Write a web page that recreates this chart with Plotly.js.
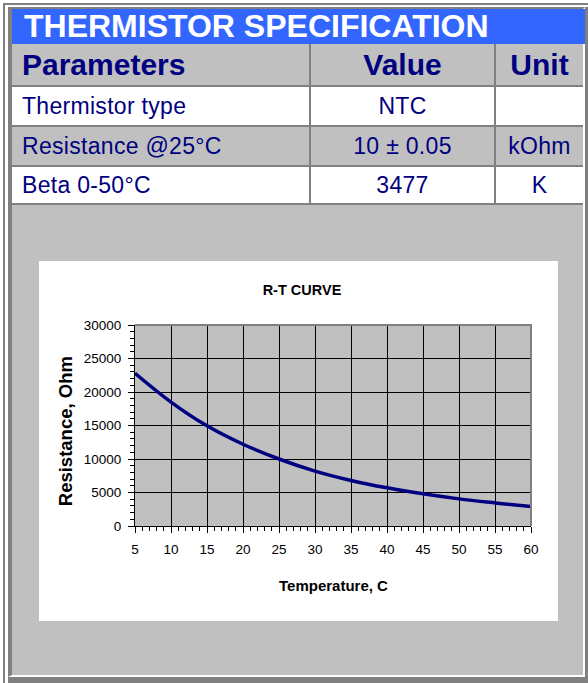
<!DOCTYPE html>
<html>
<head>
<meta charset="utf-8">
<script src="https://cdn.plot.ly/plotly-3.0.1.min.js"></script>
<style>
  html, body { margin: 0; padding: 0; background: #ffffff; width: 588px; height: 683px; overflow: hidden; }
  body { position: relative; font-family: "Liberation Sans", Arial, sans-serif; }
  .abs { position: absolute; box-sizing: border-box; }
  .cell { position: absolute; display: flex; align-items: center; color: #000080; box-sizing: border-box; white-space: nowrap; }
  .left { justify-content: flex-start; padding-left: 10px; }
  .center { justify-content: center; }
  .hdr { font-weight: bold; font-size: 30px; }
  .txt { font-size: 23px; letter-spacing: 0.3px; }
</style>
</head>
<body>
<div id="frame"></div>
<div id="chart" class="abs" style="left:39px; top:261px; width:519px; height:360px;"></div>
<script>
// ---- table data ----
var tableTitle = 'THERMISTOR SPECIFICATION';
var headers = ['Parameters', 'Value', 'Unit'];
var paramNames = ['Thermistor type', 'Resistance @25°C', 'Beta 0-50°C'];
var paramValues = ['NTC', '10 ± 0.05', '3477'];
var paramUnits = ['', 'kOhm', 'K'];

// ---- chart data ----
var chartTitle = 'R-T CURVE';
var xTitle = 'Temperature, C';
var yTitle = 'Resistance, Ohm';
var temperatureC = [5, 10, 15, 20, 25, 30, 35, 40, 45, 50, 55, 60];
var resistanceOhm = [22800, 18500, 14950, 12200, 10000, 8200, 6800, 5700, 4800, 4050, 3450, 2900];

// ---- build page frame and table ----
var frame = document.getElementById('frame');
function box(style, html, cls) {
  var d = document.createElement('div');
  d.className = cls || 'abs';
  d.setAttribute('style', style);
  if (html !== undefined) d.textContent = html;
  frame.appendChild(d);
  return d;
}
// outer lines
box('left:3px; top:3px; width:600px; height:700px; border-left:2px solid #808080; border-top:2px solid #808080;');
// outer dark right / bottom
box('left:8px; top:677px; width:590px; height:10px; background:#808080;');
box('left:585px; top:7px; width:10px; height:690px; background:#808080;');
// panel
box('left:8px; top:7px; width:577px; height:670px; background:#C0C0C0; border-left:4px solid #808080; border-top:2px solid #808080; border-right:2px solid #ffffff; border-bottom:2px solid #ffffff;');
// blue title bar
var t = box('left:12px; top:9px; width:573px; height:35px; background:#3366FF; color:#ffffff; font-weight:bold; font-size:32px; padding-left:12px; display:flex; align-items:center; white-space:nowrap;', tableTitle);

var colX = [12, 311, 496];
var colW = [297, 183, 87];
var rowTops = [87, 127, 167];
var rowH = [38, 38, 36];
var rowBg = ['#ffffff', '#C0C0C0', '#ffffff'];

// header row
box('left:12px; top:44px; width:571px; height:41px; background:#C0C0C0;');
for (var c = 0; c < 3; c++) {
  box('left:' + colX[c] + 'px; top:44px; width:' + colW[c] + 'px; height:41px;', headers[c],
      'cell hdr ' + (c === 0 ? 'left' : 'center'));
}
// lines
var lineYs = [85, 125, 165, 203];
lineYs.forEach(function (y) { box('left:12px; top:' + y + 'px; width:571px; height:2px; background:#808080;'); });
// body rows
var cols = [paramNames, paramValues, paramUnits];
for (var r = 0; r < 3; r++) {
  box('left:12px; top:' + rowTops[r] + 'px; width:571px; height:' + rowH[r] + 'px; background:' + rowBg[r] + ';');
  for (var c2 = 0; c2 < 3; c2++) {
    box('left:' + colX[c2] + 'px; top:' + rowTops[r] + 'px; width:' + colW[c2] + 'px; height:' + rowH[r] + 'px;',
        cols[c2][r], 'cell txt ' + (c2 === 0 ? 'left' : 'center'));
  }
}
// vertical column lines
box('left:309px; top:44px; width:2px; height:161px; background:#808080;');
box('left:494px; top:44px; width:2px; height:161px; background:#808080;');

// ---- chart ----
var fontFam = '"Liberation Sans", Arial, sans-serif';
var trace = {
  x: temperatureC,
  y: resistanceOhm,
  type: 'scatter',
  mode: 'lines',
  line: { color: '#000080', width: 3.5, shape: 'spline', smoothing: 1 },
  hoverinfo: 'x+y'
};
var axisCommon = {
  showline: true, linecolor: '#000000', linewidth: 1,
  showgrid: true, gridcolor: '#000000', gridwidth: 1,
  zeroline: false,
  ticks: 'outside', ticklen: 6, tickwidth: 1, tickcolor: '#000000',
  tickfont: { family: fontFam, size: 13.5, color: '#000000' },
  fixedrange: true
};
var layout = {
  width: 519, height: 360,
  margin: { l: 96, r: 27, t: 64, b: 95, pad: 0 },
  paper_bgcolor: '#ffffff',
  plot_bgcolor: '#C0C0C0',
  showlegend: false,
  font: { family: fontFam, color: '#000000' },
  title: {
    text: chartTitle,
    font: { family: fontFam, size: 14.5, weight: 'bold', color: '#000000' },
    xref: 'container', yref: 'container',
    x: 0.5067, xanchor: 'center',
    y: 0.919, yanchor: 'middle'
  },
  xaxis: Object.assign({}, axisCommon, {
    range: [5, 60], tick0: 5, dtick: 5,
    ticklabelstandoff: 5,
    minor: { dtick: 1, tick0: 5, ticks: 'outside', ticklen: 4, tickcolor: '#000000', tickwidth: 1, showgrid: false }
  }),
  yaxis: Object.assign({}, axisCommon, {
    range: [0, 30000], tick0: 0, dtick: 5000, tickformat: 'd',
    ticklabelstandoff: 4,
    minor: { dtick: 1000, tick0: 0, ticks: 'outside', ticklen: 4, tickcolor: '#000000', tickwidth: 1, showgrid: false }
  }),
  shapes: [{
    type: 'path', xref: 'paper', yref: 'paper',
    path: 'M 0 1 L 1 1 L 1 0',
    line: { color: '#808080', width: 2 },
    layer: 'above'
  }],
  annotations: [
    {
      text: xTitle, xref: 'paper', yref: 'paper', x: 0.5, y: -0.2985,
      xanchor: 'center', yanchor: 'middle', showarrow: false,
      font: { family: fontFam, size: 15, weight: 'bold', color: '#000000' }
    },
    {
      text: yTitle, xref: 'paper', yref: 'paper', x: -0.1755, y: 0.469,
      xanchor: 'center', yanchor: 'middle', showarrow: false, textangle: -90,
      font: { family: fontFam, size: 18.5, weight: 'bold', color: '#000000' }
    }
  ]
};
Plotly.newPlot('chart', [trace], layout, { displayModeBar: false, staticPlot: true });
</script>
</body>
</html>
